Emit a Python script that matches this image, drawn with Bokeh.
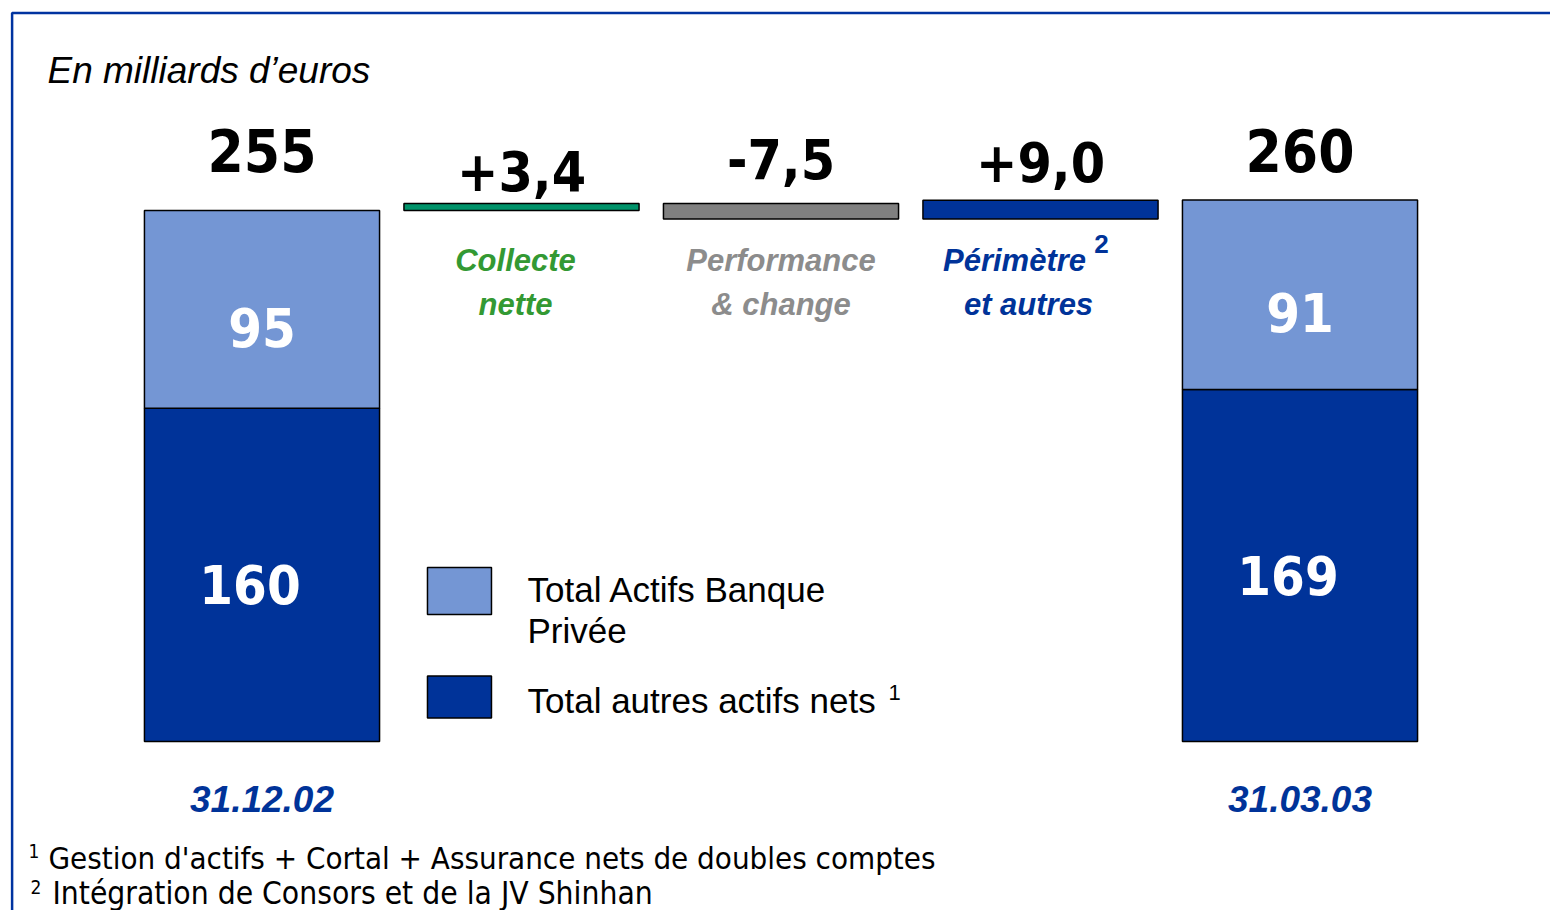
from bokeh.plotting import figure
from bokeh.models import ColumnDataSource, Range1d, Label
from bokeh.core.properties import value
from bokeh.embed import file_html
from bokeh.resources import INLINE

# ---------------- data ----------------
dates = ["31.12.02", "31.03.03"]
private_banking = [95, 91]        # Total Actifs Banque Privée
other_assets = [160, 169]         # Total autres actifs nets
totals = [255, 260]

step_names_l1 = ["Collecte", "Performance", "Périmètre"]
step_names_l2 = ["nette", "& change", "et autres"]
step_values = [3.4, -7.5, 9.0]
step_labels = ["+3,4", "-7,5", "+9,0"]

# ---------------- styles ----------------
LIGHT = "#7496D4"
DARK = "#003399"
STEP_COLORS = ["#00936A", "#808080", "#003399"]
STEP_TEXT_COLORS = ["#339933", "#8C8C8C", "#003399"]
NUM_FONT = value("DejaVu Sans Condensed")
ARIAL = value("Liberation Sans")

W, H = 1550, 910
p = figure(width=W, height=H, output_backend="svg", toolbar_location=None,
           x_range=Range1d(-1.0077, 4.9653), y_range=Range1d(-81.16, 355.84),
           min_border=0)
p.axis.visible = False
p.grid.visible = False
p.outline_line_color = None
p.background_fill_color = "white"
p.border_fill_color = "white"

# frame (top and left blue rule, open towards right/bottom)
p.line(x=[-0.963, -0.963, 6.0], y=[-120, 349.8, 349.8], line_color="#0033A0", line_width=2.5)

# ---------------- stacked totals ----------------
tot_x = [0, 4]
src_tot = ColumnDataSource(dict(x=tot_x, other=other_assets, priv=private_banking,
                                top=[o + pb for o, pb in zip(other_assets, private_banking)],
                                total_lbl=[str(t) for t in totals],
                                priv_lbl=[str(v) for v in private_banking],
                                other_lbl=[str(v) for v in other_assets],
                                priv_mid=[o + pb / 2 for o, pb in zip(other_assets, private_banking)],
                                other_mid=[o / 2 for o in other_assets],
                                date=dates))
BW = 0.906
p.vbar(x="x", bottom=0, top="other", width=BW, source=src_tot,
       fill_color=DARK, line_color="black", line_width=1.5)
p.vbar(x="x", bottom="other", top="top", width=BW, source=src_tot,
       fill_color=LIGHT, line_color="black", line_width=1.5)

p.text(x="x", y=284, text="total_lbl", source=src_tot,
       text_align="center", text_baseline="middle", text_font=NUM_FONT,
       text_font_style="bold", text_font_size="58px", text_color="black")
p.text(x="x", y="priv_mid", text="priv_lbl", source=src_tot, y_offset=18,
       text_align="center", text_baseline="middle", text_font=NUM_FONT,
       text_font_style="bold", text_font_size="54px", text_color="white")
p.text(x="x", y="other_mid", text="other_lbl", source=src_tot, y_offset=10, x_offset=-12,
       text_align="center", text_baseline="middle", text_font=NUM_FONT,
       text_font_style="bold", text_font_size="54px", text_color="white")
p.text(x="x", y=-27.4, text="date", source=src_tot,
       text_align="center", text_baseline="middle", text_font=ARIAL,
       text_font_style="bold italic", text_font_size="37px", text_color=DARK)

# ---------------- waterfall steps ----------------
level = totals[0]
bottoms, tops = [], []
for v in step_values:
    new = level + v
    bottoms.append(min(level, new))
    tops.append(max(level, new))
    level = new
src_step = ColumnDataSource(dict(x=[1, 2, 3], bottom=bottoms, top=tops, lbl=step_labels,
                                 color=STEP_COLORS, tcolor=STEP_TEXT_COLORS,
                                 l1=step_names_l1, l2=step_names_l2,
                                 off1=[-6, 0, -26], off2=[-6, 0, -12],
                                 loff=[-32, -44, -38]))
p.vbar(x="x", bottom="bottom", top="top", width=BW, source=src_step,
       fill_color="color", line_color="black", line_width=1.5)
p.text(x="x", y="top", text="lbl", source=src_step, y_offset="loff",
       text_align="center", text_baseline="middle", text_font=NUM_FONT,
       text_font_style="bold", text_font_size="55px", text_color="black")
p.text(x="x", y=231, text="l1", source=src_step, x_offset="off1",
       text_align="center", text_baseline="middle", text_font=ARIAL,
       text_font_style="bold italic", text_font_size="31px", text_color="tcolor")
p.text(x="x", y=210, text="l2", source=src_step, x_offset="off2",
       text_align="center", text_baseline="middle", text_font=ARIAL,
       text_font_style="bold italic", text_font_size="31px", text_color="tcolor")
p.text(x=[3], y=[239.1], text=["2"], x_offset=61,
       text_align="center", text_baseline="middle", text_font=ARIAL,
       text_font_style="bold", text_font_size="26px", text_color=DARK)

# ---------------- legend ----------------
p.rect(x=[0.761], y=[72.3], width=64, height=47, width_units="screen", height_units="screen",
       fill_color=LIGHT, line_color="black", line_width=1.5)
p.rect(x=[0.761], y=[21.4], width=64, height=42, width_units="screen", height_units="screen",
       fill_color=DARK, line_color="black", line_width=1.5)

def scr(text, x, y, size, font="Liberation Sans", style="normal", color="black", align="left"):
    p.add_layout(Label(x=x, y=H - y, x_units="screen", y_units="screen", text=text,
                       text_font=font, text_font_size=size, text_font_style=style,
                       text_color=color, text_align=align, text_baseline="middle"))

scr("Total Actifs Banque", 527, 589, "35px")
scr("Privée", 527, 630, "35px")
scr("Total autres actifs nets", 527, 700, "35px")
scr("1", 888, 692, "22px")

# title
scr("En milliards d\u2019euros", 47, 70, "37px", style="italic")

# footnotes
scr("1", 28, 850, "19px", font="DejaVu Sans Condensed")
scr("Gestion d'actifs + Cortal + Assurance nets de doubles comptes", 48, 857, "31px",
    font="DejaVu Sans Condensed")
scr("2", 30, 886, "19px", font="DejaVu Sans Condensed")
scr("Intégration de Consors et de la JV Shinhan", 52, 892, "31.5px",
    font="DejaVu Sans Condensed")

open("out.html", "w").write(file_html(p, INLINE))
